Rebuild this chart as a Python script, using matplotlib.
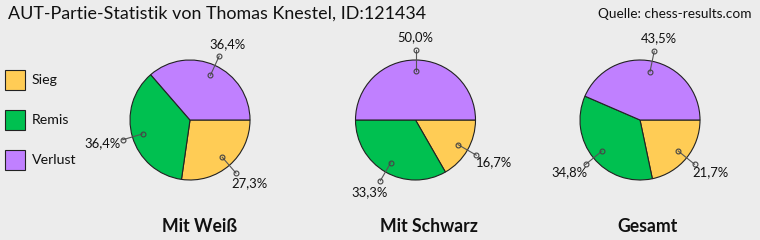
"""
    AUT-Partie-Statistik: drei Tortendiagramme (Weiss / Schwarz / Gesamt)
"""

import numpy as np
import matplotlib
matplotlib.use("Agg")
import matplotlib.pyplot as plt

plt.rcParams['font.family'] = ['Lato', 'DejaVu Sans']

# data
kategorien = ["Sieg", "Remis", "Verlust"]
farben = ["#FFCC55", "#00C050", "#C080FF"]
titel_pies = ["Mit Weiß", "Mit Schwarz", "Gesamt"]
weiss = [27.3, 36.4, 36.4]
schwarz = [16.7, 33.3, 50.0]
gesamt = [21.7, 34.8, 43.5]
werte = [weiss, schwarz, gesamt]

bg = "#ECECEC"
fig = plt.figure(figsize=(7.6, 2.4), dpi=100, facecolor=bg)
ax = fig.add_axes([0, 0, 1, 1])
ax.set_facecolor(bg)

# pie centers / radius in pixel coordinates (y down)
zentren = [(190, 120), (415.5, 120), (640, 120)]
R = 60
sub_x = [200, 429, 648]

for vals, (cx, cy), name, sx in zip(werte, zentren, titel_pies, sub_x):
    wedges, _ = ax.pie(vals, colors=farben, center=(cx, cy), radius=R,
                       startangle=0, counterclock=True, frame=True,
                       wedgeprops=dict(edgecolor="#222222", linewidth=0.8))
    for w, v in zip(wedges, vals):
        mid = np.deg2rad((w.theta1 + w.theta2) / 2)
        c, s = np.cos(mid), np.sin(mid)
        x1, y1 = cx + 0.82 * R * c, cy + 0.82 * R * s
        x2, y2 = cx + 1.17 * R * c, cy + 1.17 * R * s
        ax.plot([x1, x2], [y1, y2], color="#555555", lw=0.8,
                marker="o", ms=3.5, mfc="none", mec="#444444", mew=0.8)
        txt = ("%.1f%%" % v).replace(".", ",")
        ax.text(x2 + 21 * c, y2 + 13 * s, txt, ha="center", va="center",
                fontsize=9.4, color="#111111")
    ax.text(sx, 226, name, ha="center", va="center", fontsize=12.7,
            fontweight="bold", color="#111111")

# legend boxes
for i, (k, f) in enumerate(zip(kategorien, farben)):
    y0 = 70 + 40 * i
    ax.add_patch(plt.Rectangle((4.5, y0), 20, 20, facecolor=f,
                               edgecolor="#222222", lw=0.8))
    ax.text(32, y0 + 10, k, ha="left", va="center", fontsize=10.2,
            color="#111111")

ax.text(8, 13.5, "AUT-Partie-Statistik von Thomas Knestel, ID:121434",
        ha="left", va="center", fontsize=12.9, color="#111111")
ax.text(752, 13.5, "Quelle: chess-results.com", ha="right", va="center",
        fontsize=9.8, color="#111111")

ax.set_xlim(0, 760)
ax.set_ylim(240, 0)
ax.set_aspect("auto")
ax.axis("off")

fig.savefig("out.png", dpi=100, facecolor=bg)
